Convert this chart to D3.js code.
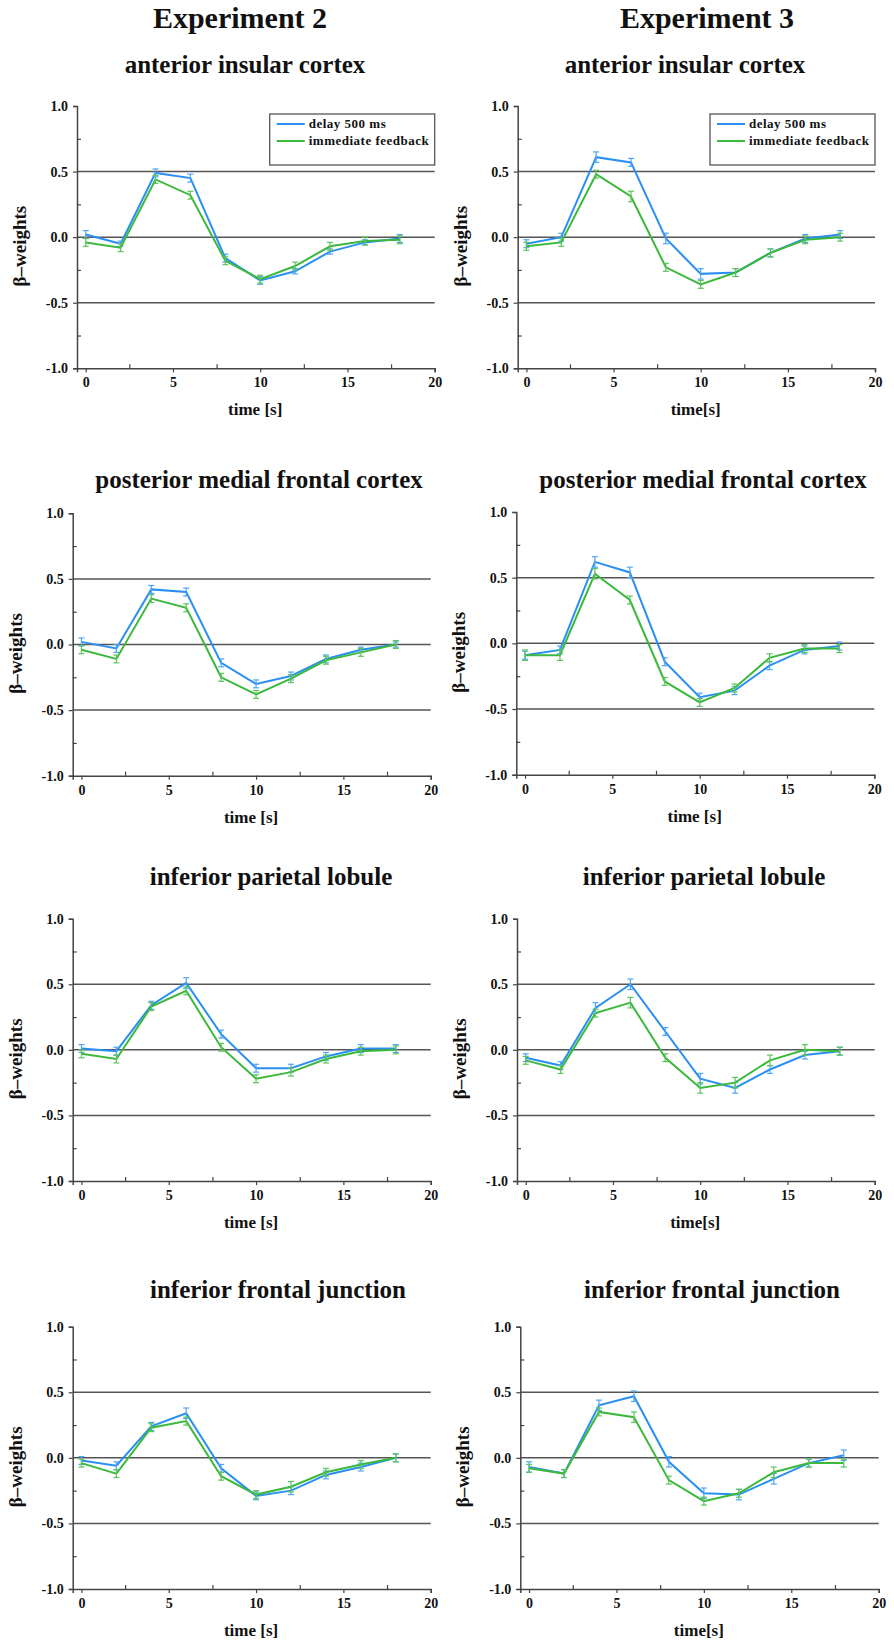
<!DOCTYPE html>
<html>
<head>
<meta charset="utf-8">
<script src="https://cdn.jsdelivr.net/npm/d3@7"></script>
<style>
  html, body { margin: 0; padding: 0; background: #fff; }
  svg text { font-family: "Liberation Serif", "Times New Roman", serif; font-weight: bold; fill: #111; }
</style>
</head>
<body>
<svg id="chart" width="894" height="1644"></svg>
<script>
// ---------------- data ----------------
const times = [0, 2, 4, 6, 8, 10, 12, 14, 16, 18];
const experiments = ["Experiment 2", "Experiment 3"];
const regions = ["anterior insular cortex", "posterior medial frontal cortex", "inferior parietal lobule", "inferior frontal junction"];
const seriesNames = ["delay 500 ms", "immediate feedback"];
const xTicks = [0, 5, 10, 15, 20];
const xMinorTicks = [2.5, 7.5, 12.5, 17.5];
const yTicks = [-1.0, -0.5, 0.0, 0.5, 1.0];
const yMinorTicks = [-0.75, -0.25, 0.25, 0.75];
const gridValues = [-0.5, 0, 0.5];
const xLabels = [["time [s]", "time [s]", "time [s]", "time [s]"], ["time[s]", "time [s]", "time[s]", "time[s]"]];
const yLabel = "β–weights";

// Experiment 2
const e2_aic_delay = [0.02, -0.05, 0.49, 0.45, -0.16, -0.33, -0.26, -0.11, -0.04, -0.01];
const e2_aic_imm   = [-0.04, -0.08, 0.44, 0.32, -0.18, -0.32, -0.22, -0.07, -0.03, -0.02];
const e2_pmfc_delay = [0.02, -0.03, 0.42, 0.40, -0.14, -0.30, -0.24, -0.11, -0.04, 0.00];
const e2_pmfc_imm   = [-0.04, -0.11, 0.35, 0.28, -0.25, -0.38, -0.26, -0.12, -0.06, 0.00];
const e2_ipl_delay = [0.01, -0.01, 0.34, 0.51, 0.12, -0.14, -0.14, -0.05, 0.01, 0.01];
const e2_ipl_imm   = [-0.03, -0.07, 0.33, 0.45, 0.02, -0.22, -0.17, -0.07, -0.01, 0.00];
const e2_ifj_delay = [-0.02, -0.06, 0.24, 0.34, -0.08, -0.29, -0.25, -0.13, -0.07, 0.00];
const e2_ifj_imm   = [-0.04, -0.12, 0.23, 0.28, -0.14, -0.28, -0.22, -0.11, -0.05, 0.00];
// Experiment 3
const e3_aic_delay = [-0.05, 0.00, 0.61, 0.57, -0.01, -0.28, -0.27, -0.12, -0.01, 0.02];
const e3_aic_imm   = [-0.07, -0.04, 0.48, 0.31, -0.23, -0.36, -0.27, -0.12, -0.02, 0.00];
const e3_pmfc_delay = [-0.09, -0.05, 0.62, 0.54, -0.14, -0.41, -0.36, -0.17, -0.05, -0.02];
const e3_pmfc_imm   = [-0.09, -0.09, 0.53, 0.33, -0.29, -0.45, -0.34, -0.11, -0.04, -0.04];
const e3_ipl_delay = [-0.06, -0.12, 0.32, 0.50, 0.14, -0.22, -0.29, -0.15, -0.04, -0.01];
const e3_ipl_imm   = [-0.08, -0.15, 0.28, 0.36, -0.06, -0.29, -0.25, -0.08, 0.00, -0.01];
const e3_ifj_delay = [-0.07, -0.12, 0.40, 0.47, -0.03, -0.27, -0.28, -0.16, -0.04, 0.02];
const e3_ifj_imm   = [-0.08, -0.12, 0.35, 0.31, -0.17, -0.33, -0.27, -0.11, -0.04, -0.04];

// standard errors (error bar half-lengths)
const e2_aic_delay_se = [0.03, 0.02, 0.03, 0.03, 0.03, 0.03, 0.02, 0.02, 0.02, 0.03];
const e2_aic_imm_se   = [0.03, 0.03, 0.03, 0.03, 0.03, 0.03, 0.03, 0.03, 0.03, 0.03];
const e2_pmfc_delay_se = [0.03, 0.03, 0.03, 0.03, 0.03, 0.03, 0.03, 0.03, 0.02, 0.02];
const e2_pmfc_imm_se   = [0.03, 0.03, 0.03, 0.03, 0.03, 0.03, 0.03, 0.03, 0.03, 0.03];
const e2_ipl_delay_se = [0.03, 0.03, 0.03, 0.04, 0.03, 0.03, 0.03, 0.03, 0.03, 0.03];
const e2_ipl_imm_se   = [0.03, 0.03, 0.03, 0.03, 0.03, 0.03, 0.03, 0.03, 0.03, 0.03];
const e2_ifj_delay_se = [0.03, 0.03, 0.03, 0.04, 0.03, 0.03, 0.03, 0.03, 0.03, 0.03];
const e2_ifj_imm_se   = [0.03, 0.03, 0.03, 0.03, 0.03, 0.03, 0.04, 0.03, 0.03, 0.03];
const e3_aic_delay_se = [0.03, 0.03, 0.04, 0.03, 0.04, 0.04, 0.03, 0.03, 0.03, 0.03];
const e3_aic_imm_se   = [0.03, 0.03, 0.03, 0.04, 0.03, 0.03, 0.03, 0.03, 0.03, 0.03];
const e3_pmfc_delay_se = [0.03, 0.03, 0.04, 0.04, 0.03, 0.03, 0.03, 0.03, 0.03, 0.03];
const e3_pmfc_imm_se   = [0.04, 0.04, 0.04, 0.03, 0.03, 0.03, 0.03, 0.03, 0.03, 0.03];
const e3_ipl_delay_se = [0.03, 0.03, 0.04, 0.04, 0.03, 0.04, 0.04, 0.03, 0.03, 0.03];
const e3_ipl_imm_se   = [0.03, 0.03, 0.03, 0.04, 0.03, 0.04, 0.04, 0.04, 0.04, 0.03];
const e3_ifj_delay_se = [0.04, 0.03, 0.04, 0.04, 0.04, 0.04, 0.04, 0.04, 0.03, 0.04];
const e3_ifj_imm_se   = [0.03, 0.03, 0.03, 0.04, 0.03, 0.03, 0.03, 0.04, 0.03, 0.03];

const panelData = [
  [ // Experiment 2
    [[e2_aic_delay, e2_aic_delay_se], [e2_aic_imm, e2_aic_imm_se]],
    [[e2_pmfc_delay, e2_pmfc_delay_se], [e2_pmfc_imm, e2_pmfc_imm_se]],
    [[e2_ipl_delay, e2_ipl_delay_se], [e2_ipl_imm, e2_ipl_imm_se]],
    [[e2_ifj_delay, e2_ifj_delay_se], [e2_ifj_imm, e2_ifj_imm_se]]
  ],
  [ // Experiment 3
    [[e3_aic_delay, e3_aic_delay_se], [e3_aic_imm, e3_aic_imm_se]],
    [[e3_pmfc_delay, e3_pmfc_delay_se], [e3_pmfc_imm, e3_pmfc_imm_se]],
    [[e3_ipl_delay, e3_ipl_delay_se], [e3_ipl_imm, e3_ipl_imm_se]],
    [[e3_ifj_delay, e3_ifj_delay_se], [e3_ifj_imm, e3_ifj_imm_se]]
  ]
];

// ---------------- layout / style ----------------
const FONT = "'Liberation Serif', 'Times New Roman', serif";
const lineColors = ["#2a8ff2", "#3cb83c"];
const errColors = ["#4ea6f6", "#5cc45c"];
// per panel: axis x, x20 position, y(1.0), y(-1.0), title centre x, title baseline
const layout = [
  [
    {ax: 77,   x20: 434.7, yT: 106,   yB: 368.3, tx: 245, ty: 73},
    {ax: 72.7, x20: 430.7, yT: 513.3, yB: 775.7, tx: 259, ty: 488},
    {ax: 72.7, x20: 430.7, yT: 918.7, yB: 1181,  tx: 271, ty: 885},
    {ax: 72.7, x20: 430.7, yT: 1326.7,yB: 1589,  tx: 278, ty: 1298}
  ],
  [
    {ax: 517.7, x20: 875,   yT: 106,   yB: 368.3, tx: 685, ty: 73},
    {ax: 516.3, x20: 874.3, yT: 512,   yB: 774.7, tx: 703, ty: 488},
    {ax: 517,   x20: 874.7, yT: 918.7, yB: 1181,  tx: 704, ty: 885},
    {ax: 520.3, x20: 878.7, yT: 1326.7,yB: 1589,  tx: 712, ty: 1298}
  ]
];
const expTitlePos = [{x: 240, y: 28}, {x: 707, y: 28}];

const svg = d3.select("#chart");

experiments.forEach((name, ei) => {
  svg.append("text").attr("x", expTitlePos[ei].x).attr("y", expTitlePos[ei].y)
    .attr("text-anchor", "middle").attr("font-family", FONT).style("font-size", "30px").text(name);
});

const axisColor = "#444";

experiments.forEach((_, ei) => {
  regions.forEach((region, ri) => {
    const L = layout[ei][ri];
    const x = d3.scaleLinear().domain([-0.5, 20]).range([L.ax, L.x20]);
    const y = d3.scaleLinear().domain([-1, 1]).range([L.yB, L.yT]);
    const g = svg.append("g");

    // title
    g.append("text").attr("x", L.tx).attr("y", L.ty).attr("text-anchor", "middle")
      .attr("font-family", FONT).style("font-size", "25px").text(region);

    // gridlines
    g.selectAll("line.grid").data(gridValues).enter().append("line")
      .attr("x1", x(-0.5)).attr("x2", x(20))
      .attr("y1", d => y(d)).attr("y2", d => y(d))
      .attr("stroke", "#555").attr("stroke-width", 1.5);

    // y axis
    const yAxis = d3.axisLeft(y).tickValues(yTicks).tickSize(4).tickPadding(5)
      .tickFormat(d => d.toFixed(1));
    const gy = g.append("g").attr("transform", `translate(${L.ax},0)`).call(yAxis);
    gy.attr("font-family", FONT);
    gy.select(".domain").attr("stroke", axisColor).attr("stroke-width", 1.5);
    gy.selectAll(".tick line").attr("stroke", axisColor).attr("stroke-width", 1.2);
    gy.selectAll(".tick text").style("font-family", FONT)
      .style("font-weight", "bold").style("font-size", "14px").attr("fill", "#222");
    const gyMinor = g.append("g").attr("transform", `translate(${L.ax},0)`)
      .call(d3.axisRight(y).tickValues(yMinorTicks).tickSize(4).tickFormat(""));
    gyMinor.select(".domain").remove();
    gyMinor.selectAll(".tick line").attr("stroke", axisColor).attr("stroke-width", 1.2);

    // x axis
    const xAxis = d3.axisBottom(x).tickValues(xTicks).tickSize(4).tickPadding(5)
      .tickFormat(d3.format("d"));
    const gx = g.append("g").attr("transform", `translate(0,${L.yB})`).call(xAxis);
    gx.attr("font-family", FONT);
    gx.select(".domain").attr("stroke", axisColor).attr("stroke-width", 1.5);
    gx.selectAll(".tick line").attr("stroke", axisColor).attr("stroke-width", 1.2);
    gx.selectAll(".tick text").style("font-family", FONT)
      .style("font-weight", "bold").style("font-size", "14px").attr("fill", "#222");
    const gxMinor = g.append("g").attr("transform", `translate(0,${L.yB})`)
      .call(d3.axisTop(x).tickValues(xMinorTicks).tickSize(4).tickFormat(""));
    gxMinor.select(".domain").remove();
    gxMinor.selectAll(".tick line").attr("stroke", axisColor).attr("stroke-width", 1.2);

    // axis labels
    g.append("text").attr("x", (x(0) + x(20)) / 2 - 5).attr("y", L.yB + 47)
      .attr("text-anchor", "middle").attr("font-family", FONT).style("font-size", "17px").text(xLabels[ei][ri]);
    const yc = (L.yT + L.yB) / 2 + 9;
    g.append("text").attr("transform", `translate(${L.ax - 51},${yc}) rotate(-90)`)
      .attr("text-anchor", "middle").attr("font-family", FONT).style("font-size", "19px").text(yLabel);

    // series
    const line = d3.line().x((d, i) => x(times[i])).y(d => y(d));
    panelData[ei][ri].forEach(([vals, se], si) => {
      const sg = g.append("g");
      sg.append("path").datum(vals).attr("d", line)
        .attr("fill", "none").attr("stroke", lineColors[si]).attr("stroke-width", 2);
      const eb = sg.selectAll("g.eb").data(vals).enter().append("g");
      eb.append("line").attr("x1", (d, i) => x(times[i])).attr("x2", (d, i) => x(times[i]))
        .attr("y1", (d, i) => y(d - se[i])).attr("y2", (d, i) => y(d + se[i]))
        .attr("stroke", errColors[si]).attr("stroke-width", 1.2);
      [-1, 1].forEach(sgn => {
        eb.append("line").attr("x1", (d, i) => x(times[i]) - 3).attr("x2", (d, i) => x(times[i]) + 3)
          .attr("y1", (d, i) => y(d + sgn * se[i])).attr("y2", (d, i) => y(d + sgn * se[i]))
          .attr("stroke", errColors[si]).attr("stroke-width", 1.2);
      });
    });

    // legend in top row
    if (ri === 0) {
      const lx = x(20) - 165, ly = L.yT + 8;
      const lg = g.append("g").attr("transform", `translate(${lx},${ly})`);
      lg.append("rect").attr("width", 165).attr("height", 51)
        .attr("fill", "#fff").attr("stroke", "#555").attr("stroke-width", 1.3);
      seriesNames.forEach((s, si) => {
        const yy = 10 + si * 17;
        lg.append("line").attr("x1", 7).attr("x2", 35).attr("y1", yy).attr("y2", yy)
          .attr("stroke", lineColors[si]).attr("stroke-width", 2);
        lg.append("text").attr("x", 39).attr("y", yy + 4).attr("font-family", FONT)
          .style("font-size", "13px").style("letter-spacing", "0.5px").text(s);
      });
    }
  });
});
</script>
</body>
</html>
